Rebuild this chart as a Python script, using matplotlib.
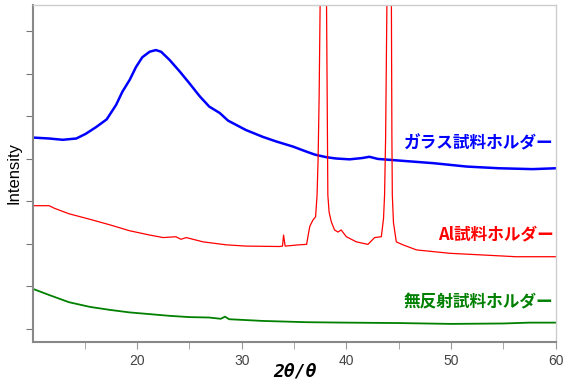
import matplotlib
matplotlib.use('Agg')
import matplotlib.pyplot as plt

plt.rcParams['font.family'] = ['Liberation Sans', 'Noto Sans CJK JP', 'DejaVu Sans']

# ガラス試料ホルダー (blue)
glass_x = [10.2, 11.6, 12.9, 14.2, 15.1, 16.1, 17.1, 18.0, 18.6, 19.3, 19.9, 20.5, 21.2,
           21.8, 22.3, 23.1, 24.1, 25.0, 26.0, 26.9, 27.9, 28.7, 30.4, 32.0, 33.3, 34.9,
           36.2, 37.0, 38.1, 39.0, 40.3, 41.5, 42.2, 43.0, 45.1, 48.3, 51.5, 54.6, 57.8, 60.0]
glass_y = [4.50, 4.48, 4.45, 4.48, 4.59, 4.75, 4.93, 5.27, 5.58, 5.86, 6.16, 6.39, 6.52,
           6.56, 6.52, 6.33, 6.05, 5.78, 5.47, 5.23, 5.08, 4.90, 4.68, 4.52, 4.41, 4.29,
           4.17, 4.10, 4.04, 4.01, 3.99, 4.02, 4.05, 4.00, 3.96, 3.90, 3.82, 3.78, 3.76, 3.78]

# Al試料ホルダー (red)
al_x = [10.2, 11.6, 12.1, 13.5, 15.5, 17.4, 19.3, 21.2, 22.5, 23.7, 24.2, 24.7, 26.3, 28.5,
        30.4, 33.6, 33.9, 34.0, 34.15, 35.5, 36.2, 36.5, 36.8, 37.06, 37.2, 37.3, 37.4, 37.5,
        37.8, 38.1, 38.18, 38.23, 38.35, 38.56, 38.87, 39.2, 39.5, 40.0, 40.95, 42.06, 42.7,
        43.34, 43.55, 43.65, 43.75, 43.88, 44.1, 44.3, 44.35, 44.39, 44.5, 44.77, 45.4,
        46.7, 49.9, 53.1, 56.2, 60.0]
al_y = [2.90, 2.90, 2.84, 2.71, 2.58, 2.45, 2.31, 2.21, 2.15, 2.17, 2.11, 2.15, 2.05, 1.98,
        1.95, 1.94, 1.95, 2.21, 1.95, 1.98, 1.99, 2.41, 2.56, 2.64, 3.15, 4.0, 5.5, 7.8,
        40.0, 7.8, 5.0, 3.15, 2.75, 2.52, 2.33, 2.28, 2.33, 2.17, 2.05, 1.99, 2.15,
        2.17, 2.6, 3.15, 4.5, 7.8, 40.0, 7.8, 4.5, 3.15, 2.5, 2.05, 1.98,
        1.86, 1.78, 1.74, 1.70, 1.70]

# 無反射試料ホルダー (green)
zero_x = [10.2, 11.6, 13.5, 15.5, 17.4, 19.3, 21.2, 23.1, 25.0, 26.9, 28.0, 28.4, 28.8,
          32.0, 36.2, 40.0, 45.0, 50.0, 55.0, 57.5, 60.0]
zero_y = [0.93, 0.80, 0.63, 0.52, 0.45, 0.39, 0.35, 0.31, 0.28, 0.27, 0.24, 0.29, 0.23,
          0.19, 0.16, 0.15, 0.14, 0.12, 0.13, 0.15, 0.15]

labels = ['ガラス試料ホルダー', 'Al試料ホルダー', '無反射試料ホルダー']
label_y = [4.36, 2.22, 0.63]
colors = ['#0000ff', '#ff0000', '#008000']

fig = plt.figure(figsize=(5.67, 3.83), dpi=100)
ax = fig.add_axes([0.058, 0.107, 0.923, 0.880])

ax.plot(glass_x, glass_y, color=colors[0], lw=1.8)
ax.plot(al_x, al_y, color=colors[1], lw=0.9)
ax.plot(zero_x, zero_y, color=colors[2], lw=1.3)

for txt, yy, c in zip(labels, label_y, colors):
    ax.text(59.8, yy, txt, color=c, fontsize=12, fontweight='bold', ha='right', va='center',
            family=['Noto Sans CJK JP', 'DejaVu Sans'])

ax.set_xlim(10.05, 60.05)
ax.set_ylim(-0.306, 7.62)
ax.set_xticks([20, 30, 40, 50, 60])
ax.set_xticks([15, 25, 35, 45, 55], minor=True)
ax.set_yticks(range(8))
ax.set_yticklabels([])

ax.tick_params(axis='x', which='both', direction='out', length=5, color='#999999',
               labelcolor='#444444', labelsize=10)
ax.tick_params(axis='y', direction='out', length=5, color='#777777')

for s in ['left', 'bottom']:
    ax.spines[s].set_color('#888888')
    ax.spines[s].set_linewidth(1.5)
for s in ['top', 'right']:
    ax.spines[s].set_color('#cccccc')
    ax.spines[s].set_linewidth(1.0)

ax.set_ylabel('Intensity', fontsize=12)
ax.yaxis.set_label_coords(-0.021, 0.5)
ax.set_xlabel('2θ/θ', fontsize=13, fontweight='bold', fontstyle='italic',
              family=['DejaVu Sans Mono', 'DejaVu Sans'])
ax.xaxis.set_label_coords(0.5, -0.062)

fig.savefig('out.png', dpi=100)
